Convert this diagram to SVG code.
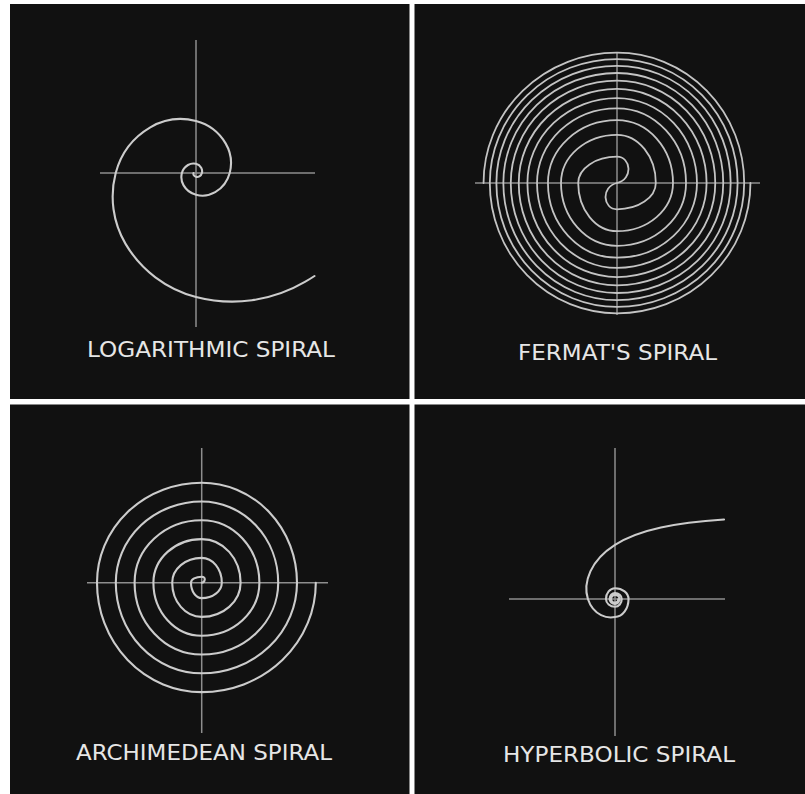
<svg xmlns="http://www.w3.org/2000/svg" width="805" height="794" viewBox="0 0 805 794">
<style>
.panel{fill:#111111}
.axis{stroke:#8e8e8e;stroke-width:1.5;fill:none}
.spiral{stroke:#cccccc;stroke-width:2.1;fill:none;stroke-linecap:round;stroke-linejoin:round}
.fermat{stroke:#c4c4c4;stroke-width:1.8;fill:none;stroke-linecap:round}
.label{font-family:"DejaVu Sans","Liberation Sans",sans-serif;font-size:22px;fill:#e6e6e6;text-anchor:middle}
</style>
<rect x="0" y="0" width="805" height="794" fill="#ffffff"/>
<g id="logarithmic">
<rect class="panel" x="10" y="4" width="399.5" height="395"/>
<line class="axis" x1="100" y1="173" x2="315" y2="173"/>
<line class="axis" x1="196" y1="40" x2="196" y2="327"/>
<path class="spiral" d="M 193.5 173 A 2.9 2.9 0 0 0 193.8 175.2 A 3.6 3.6 0 0 0 196 176.84 A 4.45 4.45 0 0 0 199.4 176.4 A 5.5 5.5 0 0 0 201.9 173 A 6.9 6.9 0 0 0 201.2 167.8 A 8.5 8.5 0 0 0 196 163.85 A 10.6 10.6 0 0 0 188 165 A 13.2 13.2 0 0 0 181.9 173 A 16.4 16.4 0 0 0 183.6 185.4 A 20.3 20.3 0 0 0 196 194.8 A 25.3 25.3 0 0 0 215.2 192.2 A 31.4 31.4 0 0 0 229.7 173 A 39 39 0 0 0 225.6 143.4 A 48.5 48.5 0 0 0 196 121 A 60.3 60.3 0 0 0 150.3 127.3 A 74.9 74.9 0 0 0 115.7 173 A 93.1 93.1 0 0 0 125.4 243.6 A 115.7 115.7 0 0 0 196 297 A 143.8 143.8 0 0 0 304.9 281.9 A 161 161 0 0 0 314.5 276"/>
<text class="label" x="211" y="357" textLength="248" lengthAdjust="spacingAndGlyphs">LOGARITHMIC SPIRAL</text>
</g>
<g id="fermat">
<rect class="panel" x="414.5" y="4" width="390.5" height="395"/>
<line class="axis" x1="475" y1="183" x2="760" y2="183"/>
<line class="axis" x1="617" y1="52" x2="617" y2="315"/>
<path class="fermat" d="M 617 183 C 633.5 179 631 156.72 617 156.72 A 38.81 26.28 0 0 0 578.19 183 A 38.81 48.18 0 0 0 617 231.18 A 56 48.18 0 0 0 673 183 A 56 62.86 0 0 0 617 120.14 A 69.04 62.86 0 0 0 547.96 183 A 69.04 74.71 0 0 0 617 257.71 A 79.98 74.71 0 0 0 696.98 183 A 79.98 84.92 0 0 0 617 98.08 A 89.59 84.92 0 0 0 527.41 183 A 89.59 94.03 0 0 0 617 277.03 A 98.27 94.03 0 0 0 715.27 183 A 98.27 102.33 0 0 0 617 80.67 A 106.24 102.33 0 0 0 510.76 183 A 106.24 110.01 0 0 0 617 293.01 A 113.66 110.01 0 0 0 730.66 183 A 113.66 117.19 0 0 0 617 65.81 A 120.62 117.19 0 0 0 496.38 183 A 120.62 123.95 0 0 0 617 306.95 A 127.19 123.95 0 0 0 744.19 183 A 127.19 130.36 0 0 0 617 52.64 A 133.45 130.36 0 0 0 483.55 183"/>
<path class="fermat" d="M 617 183 C 600.5 187 603 209.28 617 209.28 A 38.81 26.28 0 0 0 655.81 183 A 38.81 48.18 0 0 0 617 134.82 A 56 48.18 0 0 0 561 183 A 56 62.86 0 0 0 617 245.86 A 69.04 62.86 0 0 0 686.04 183 A 69.04 74.71 0 0 0 617 108.29 A 79.98 74.71 0 0 0 537.02 183 A 79.98 84.92 0 0 0 617 267.92 A 89.59 84.92 0 0 0 706.59 183 A 89.59 94.03 0 0 0 617 88.97 A 98.27 94.03 0 0 0 518.73 183 A 98.27 102.33 0 0 0 617 285.33 A 106.24 102.33 0 0 0 723.24 183 A 106.24 110.01 0 0 0 617 72.99 A 113.66 110.01 0 0 0 503.34 183 A 113.66 117.19 0 0 0 617 300.19 A 120.62 117.19 0 0 0 737.62 183 A 120.62 123.95 0 0 0 617 59.05 A 127.19 123.95 0 0 0 489.81 183 A 127.19 130.36 0 0 0 617 313.36 A 133.45 130.36 0 0 0 750.45 183"/>
<text class="label" x="617.5" y="360" textLength="199" lengthAdjust="spacingAndGlyphs">FERMAT'S SPIRAL</text>
</g>
<g id="archimedean">
<rect class="panel" x="10" y="404.5" width="399.5" height="389.5"/>
<line class="axis" x1="87" y1="582.7" x2="328" y2="582.7"/>
<line class="axis" x1="201.7" y1="448" x2="201.7" y2="733"/>
<path class="spiral" d="M 201.7 582.7 C 205 582.7 206.5 576.7 201.7 576.7 A 10.7 6 0 0 0 191 582.7 A 10.7 15.4 0 0 0 201.7 598.1 A 20.1 15.4 0 0 0 221.8 582.7 A 20.1 24.8 0 0 0 201.7 557.9 A 29.5 24.8 0 0 0 172.2 582.7 A 29.5 34.2 0 0 0 201.7 616.9 A 38.9 34.2 0 0 0 240.6 582.7 A 38.9 43.6 0 0 0 201.7 539.1 A 48.3 43.6 0 0 0 153.4 582.7 A 48.3 53 0 0 0 201.7 635.7 A 57.7 53 0 0 0 259.4 582.7 A 57.7 62.4 0 0 0 201.7 520.3 A 67.1 62.4 0 0 0 134.6 582.7 A 67.1 71.8 0 0 0 201.7 654.5 A 76.5 71.8 0 0 0 278.2 582.7 A 76.5 81.2 0 0 0 201.7 501.5 A 85.9 81.2 0 0 0 115.8 582.7 A 85.9 90.6 0 0 0 201.7 673.3 A 95.3 90.6 0 0 0 297 582.7 A 95.3 100 0 0 0 201.7 482.7 A 104.7 100 0 0 0 97 582.7 A 104.7 109.4 0 0 0 201.7 692.1 A 114.1 109.4 0 0 0 315.8 582.7"/>
<text class="label" x="204" y="760" textLength="256" lengthAdjust="spacingAndGlyphs">ARCHIMEDEAN SPIRAL</text>
</g>
<g id="hyperbolic">
<rect class="panel" x="414.5" y="404.5" width="390.5" height="389.5"/>
<line class="axis" x1="509" y1="599" x2="725" y2="599"/>
<line class="axis" x1="615" y1="448" x2="615" y2="736"/>
<path class="spiral" d="M 724 519.5 C 692.9 521.6 675.4 524.3 660.9 527.5 C 638.5 532.4 625.3 538.3 615 544.9 C 601.8 553.3 594.5 562.5 590.4 571.4 C 585.7 581.7 585.5 591.4 587.9 599 C 590.4 606.7 595.5 612.3 601.1 615.1 C 605.7 617.4 610.7 617.9 615 617 A 13.53 18.04 0 0 0 628.53 599 A 13.53 10.82 0 0 0 615 588.18 A 9.02 10.82 0 0 0 605.98 599 A 9.02 7.73 0 0 0 615 606.73 A 6.76 7.73 0 0 0 621.76 599 A 6.76 6.01 0 0 0 615 592.99 A 5.41 6.01 0 0 0 609.59 599 A 5.41 4.92 0 0 0 615 603.92 A 4.51 4.92 0 0 0 619.51 599 A 4.51 4.16 0 0 0 615 594.84 A 3.86 4.16 0 0 0 611.14 599 A 3.86 3.61 0 0 0 615 602.61 A 3.38 3.61 0 0 0 618.38 599"/>
<text class="label" x="619" y="762" textLength="232" lengthAdjust="spacingAndGlyphs">HYPERBOLIC SPIRAL</text>
</g>
</svg>
